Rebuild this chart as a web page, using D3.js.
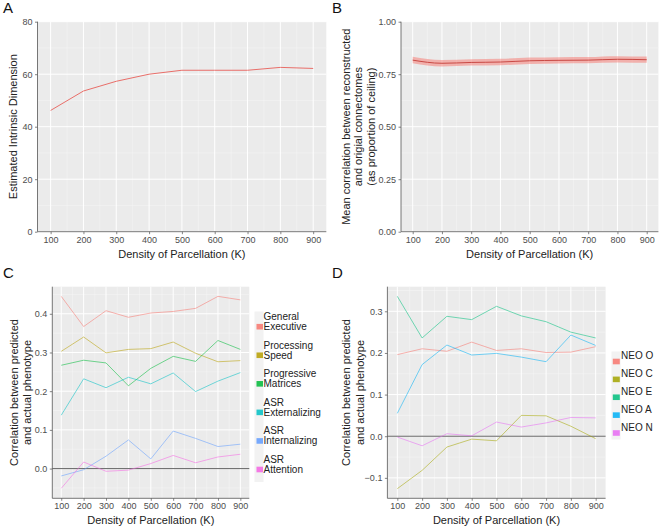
<!DOCTYPE html>
<html>
<head>
<meta charset="utf-8">
<script src="https://cdn.jsdelivr.net/npm/d3@7"></script>
<style>
  html, body { margin: 0; padding: 0; background: #fff; }
  svg { display: block; }
  text { font-family: "Liberation Sans", Arial, Helvetica, sans-serif; }
</style>
</head>
<body>
<svg id="chart" width="659" height="526"></svg>
<script>
// ---------------- DATA ----------------
const densities = [100, 200, 300, 400, 500, 600, 700, 800, 900];
const xTicks = [100, 200, 300, 400, 500, 600, 700, 800, 900];
const xMinorTicks = [150, 250, 350, 450, 550, 650, 750, 850];

// Panel A
const intrinsicDim = [46.2, 53.6, 57.3, 60.0, 61.5, 61.5, 61.5, 62.6, 62.2];
const yTicksA = [0, 20, 40, 60, 80];
const yMinorA = [10, 30, 50, 70];

// Panel B
const reconCorr = [0.817, 0.802, 0.806, 0.808, 0.814, 0.816, 0.817, 0.821, 0.819];
const reconLower = [0.802, 0.787, 0.791, 0.793, 0.799, 0.801, 0.802, 0.806, 0.804];
const reconUpper = [0.833, 0.818, 0.821, 0.823, 0.829, 0.831, 0.832, 0.836, 0.834];
const yTicksB = [0, 0.25, 0.5, 0.75, 1.0];
const yTickLabelsB = ["0.00", "0.25", "0.50", "0.75", "1.00"];
const yMinorB = [0.125, 0.375, 0.625, 0.875];

// Panel C
const namesC = [["General", "Executive"], ["Processing", "Speed"], ["Progressive", "Matrices"],
                ["ASR", "Externalizing"], ["ASR", "Internalizing"], ["ASR", "Attention"]];
const generalExecutive = [0.445, 0.367, 0.408, 0.391, 0.402, 0.406, 0.414, 0.445, 0.436];
const processingSpeed = [0.303, 0.340, 0.299, 0.308, 0.310, 0.327, 0.298, 0.276, 0.279];
const progressiveMatrices = [0.267, 0.280, 0.273, 0.214, 0.259, 0.290, 0.277, 0.331, 0.308];
const asrExternalizing = [0.138, 0.232, 0.209, 0.236, 0.219, 0.247, 0.199, 0.226, 0.248];
const asrInternalizing = [-0.019, -0.003, 0.032, 0.074, 0.025, 0.097, 0.078, 0.057, 0.063];
const asrAttention = [-0.051, 0.017, -0.007, -0.004, 0.013, 0.034, 0.015, 0.030, 0.037];
const colorsC = ["#F8766D", "#B79F00", "#00BA38", "#00BFC4", "#619CFF", "#F564E3"];
const yTicksC = [0.0, 0.1, 0.2, 0.3, 0.4];
const yMinorC = [-0.05, 0.05, 0.15, 0.25, 0.35, 0.45];

// Panel D
const namesD = ["NEO O", "NEO C", "NEO E", "NEO A", "NEO N"];
const neoO = [0.196, 0.210, 0.204, 0.226, 0.206, 0.210, 0.201, 0.202, 0.215];
const neoC = [-0.126, -0.082, -0.026, -0.007, -0.011, 0.050, 0.049, 0.024, -0.006];
const neoE = [0.336, 0.236, 0.288, 0.280, 0.312, 0.289, 0.275, 0.250, 0.236];
const neoA = [0.055, 0.172, 0.219, 0.195, 0.199, 0.190, 0.179, 0.243, 0.218];
const neoN = [-0.002, -0.023, 0.006, 0.001, 0.034, 0.022, 0.032, 0.045, 0.044];
const colorsD = ["#F8766D", "#A3A500", "#00BF7D", "#00B0F6", "#E76BF3"];
const yTicksD = [-0.1, 0.0, 0.1, 0.2, 0.3];
const yMinorD = [-0.05, 0.05, 0.15, 0.25, 0.35];

// ---------------- DRAWING ----------------
const svg = d3.select("#chart");
const PANEL_BG = "#EBEBEB";
const TICK_COLOR = "#4d4d4d";

function makePanel(cfg) {
  const g = svg.append("g");
  const x = d3.scaleLinear().domain(cfg.xDomain).range([cfg.left, cfg.right]);
  const y = d3.scaleLinear().domain(cfg.yDomain).range([cfg.bottom, cfg.top]);

  g.append("rect")
    .attr("x", cfg.left).attr("y", cfg.top)
    .attr("width", cfg.right - cfg.left).attr("height", cfg.bottom - cfg.top)
    .attr("fill", PANEL_BG);

  // minor grid
  g.selectAll(".xminor").data(xMinorTicks).enter().append("line")
    .attr("x1", d => x(d)).attr("x2", d => x(d))
    .attr("y1", cfg.top).attr("y2", cfg.bottom)
    .attr("stroke", "#F7F7F7").attr("stroke-width", 0.5);
  g.selectAll(".yminor").data(cfg.yMinor.filter(v => v >= cfg.yDomain[0] && v <= cfg.yDomain[1])).enter().append("line")
    .attr("x1", cfg.left).attr("x2", cfg.right)
    .attr("y1", d => y(d)).attr("y2", d => y(d))
    .attr("stroke", "#F7F7F7").attr("stroke-width", 0.5);
  // major grid
  g.selectAll(".xmajor").data(xTicks).enter().append("line")
    .attr("x1", d => x(d)).attr("x2", d => x(d))
    .attr("y1", cfg.top).attr("y2", cfg.bottom)
    .attr("stroke", "#FFFFFF").attr("stroke-width", 1);
  g.selectAll(".ymajor").data(cfg.yTicks).enter().append("line")
    .attr("x1", cfg.left).attr("x2", cfg.right)
    .attr("y1", d => y(d)).attr("y2", d => y(d))
    .attr("stroke", "#FFFFFF").attr("stroke-width", 1);

  // axes (d3 axis generators)
  const xAxis = d3.axisBottom(x).tickValues(xTicks).tickSize(2.5).tickPadding(2).tickFormat(d3.format("d"));
  const yAxis = d3.axisLeft(y).tickValues(cfg.yTicks).tickSize(2.5).tickPadding(2.5)
    .tickFormat((d, i) => cfg.yLabels ? cfg.yLabels[i] : cfg.yFormat(d));
  const gx = g.append("g").attr("transform", `translate(0,${cfg.bottom})`).call(xAxis);
  const gy = g.append("g").attr("transform", `translate(${cfg.left},0)`).call(yAxis);
  [gx, gy].forEach(a => {
    a.select(".domain").remove();
    a.selectAll(".tick line").attr("stroke", "#333").attr("stroke-width", 0.6);
    a.selectAll(".tick text").attr("fill", TICK_COLOR).attr("font-size", 9)
      .style("font-family", '"Liberation Sans", Arial, Helvetica, sans-serif');
  });
  // axis lines
  g.append("line").attr("x1", cfg.left).attr("x2", cfg.left).attr("y1", cfg.top).attr("y2", cfg.bottom)
    .attr("stroke", "#555").attr("stroke-width", 0.8);
  g.append("line").attr("x1", cfg.left).attr("x2", cfg.right).attr("y1", cfg.bottom).attr("y2", cfg.bottom)
    .attr("stroke", "#555").attr("stroke-width", 0.8);

  // x title
  g.append("text").attr("x", (cfg.left + cfg.right) / 2).attr("y", cfg.bottom + 26)
    .attr("text-anchor", "middle").attr("font-size", 11).attr("fill", "#222")
    .text("Density of Parcellation (K)");
  // y title (multi-line)
  const cy = (cfg.top + cfg.bottom) / 2;
  cfg.yTitle.forEach((line, i) => {
    g.append("text")
      .attr("transform", `translate(${cfg.yTitleX[i]},${cy}) rotate(-90)`)
      .attr("text-anchor", "middle").attr("dominant-baseline", "central")
      .attr("font-size", 11).attr("fill", "#222").text(line);
  });
  // panel letter
  g.append("text").attr("x", cfg.letterPos[0]).attr("y", cfg.letterPos[1])
    .attr("font-size", 15).attr("fill", "#111").text(cfg.letter);

  return { g, x, y };
}

const lineGen = (x, y, vals) => d3.line().x((d, i) => x(densities[i])).y(d => y(d))(vals);

// Panel A
{
  const p = makePanel({
    left: 37.5, right: 326.3, top: 21.7, bottom: 231.7,
    xDomain: [60, 940], yDomain: [0, 80],
    yTicks: yTicksA, yMinor: yMinorA, yFormat: d3.format("d"),
    yTitle: ["Estimated Intrinsic Dimension"], yTitleX: [12.7],
    letter: "A", letterPos: [3, 13]
  });
  p.g.append("path").attr("d", lineGen(p.x, p.y, intrinsicDim))
    .attr("fill", "none").attr("stroke", "#E8605A").attr("stroke-width", 0.9);
}

// Panel B
{
  const p = makePanel({
    left: 401, right: 658.4, top: 21.7, bottom: 231.7,
    xDomain: [60, 940], yDomain: [0, 1],
    yTicks: yTicksB, yLabels: yTickLabelsB, yMinor: yMinorB,
    yTitle: ["Mean correlation between reconstructed", "and origial connectomes", "(as proportion of ceiling)"],
    yTitleX: [345.5, 358.3, 371],
    letter: "B", letterPos: [332, 13]
  });
  const area = d3.area()
    .x((d, i) => p.x(densities[i]))
    .y0((d, i) => p.y(reconLower[i]))
    .y1((d, i) => p.y(reconUpper[i]))
    .curve(d3.curveMonotoneX);
  p.g.append("path").attr("d", area(reconCorr)).attr("fill", "#F8766D").attr("fill-opacity", 0.5);
  p.g.append("path").attr("d", d3.line().x((d, i) => p.x(densities[i])).y(d => p.y(d)).curve(d3.curveMonotoneX)(reconCorr))
    .attr("fill", "none").attr("stroke", "#C94A45").attr("stroke-width", 1);
}

// Panel C
{
  const p = makePanel({
    left: 52.3, right: 249.3, top: 286.7, bottom: 498.3,
    xDomain: [60, 940], yDomain: [-0.0768, 0.4700],
    yTicks: yTicksC, yMinor: yMinorC, yFormat: d3.format(".1f"),
    yTitle: ["Correlation between predicted", "and actual phenotype"], yTitleX: [13.5, 26.5],
    letter: "C", letterPos: [3, 278]
  });
  p.g.append("line").attr("x1", p.x.range()[0]).attr("x2", p.x.range()[1])
    .attr("y1", p.y(0)).attr("y2", p.y(0)).attr("stroke", "#555").attr("stroke-width", 0.9);
  const seriesC = [generalExecutive, processingSpeed, progressiveMatrices, asrExternalizing, asrInternalizing, asrAttention];
  seriesC.forEach((vals, k) => {
    p.g.append("path").attr("d", lineGen(p.x, p.y, vals))
      .attr("fill", "none").attr("stroke", colorsC[k]).attr("stroke-width", 0.9).attr("stroke-opacity", 0.6);
  });
  // legend
  const lg = svg.append("g");
  const keyY = d3.scaleLinear().domain([0, 5]).range([326.7, 469.5]);
  lg.append("rect").attr("x", 254.5).attr("y", 311.5).attr("width", 9).attr("height", 170.5).attr("fill", "#F2F2F2");
  namesC.forEach((lines, k) => {
    const cyk = keyY(k);
    lg.append("rect").attr("x", 256.5).attr("y", cyk - 2.8).attr("width", 6.5).attr("height", 5.6)
      .attr("fill", colorsC[k]).attr("fill-opacity", 0.85);
    lines.forEach((t, j) => {
      lg.append("text").attr("x", 263.5).attr("y", cyk - 10 + j * 10)
        .attr("dominant-baseline", "central").attr("font-size", 10).attr("fill", "#222").text(t);
    });
  });
}

// Panel D
{
  const p = makePanel({
    left: 387.4, right: 605.6, top: 286.7, bottom: 498.3,
    xDomain: [60, 940], yDomain: [-0.1491, 0.3591],
    yTicks: yTicksD, yMinor: yMinorD, yFormat: d3.format(".1f"),
    yTitle: ["Correlation between predicted", "and actual phenotype"], yTitleX: [346, 359.5],
    letter: "D", letterPos: [332, 278]
  });
  p.g.append("line").attr("x1", p.x.range()[0]).attr("x2", p.x.range()[1])
    .attr("y1", p.y(0)).attr("y2", p.y(0)).attr("stroke", "#555").attr("stroke-width", 0.9);
  const seriesD = [neoO, neoC, neoE, neoA, neoN];
  seriesD.forEach((vals, k) => {
    p.g.append("path").attr("d", lineGen(p.x, p.y, vals))
      .attr("fill", "none").attr("stroke", colorsD[k]).attr("stroke-width", 0.9).attr("stroke-opacity", 0.6);
  });
  const lg = svg.append("g");
  const keyY = d3.scaleLinear().domain([0, 4]).range([361.5, 433]);
  lg.append("rect").attr("x", 611.5).attr("y", 351.5).attr("width", 9).attr("height", 88).attr("fill", "#F2F2F2");
  namesD.forEach((t, k) => {
    const cyk = keyY(k);
    lg.append("rect").attr("x", 612.8).attr("y", cyk - 2.8).attr("width", 7).attr("height", 5.6)
      .attr("fill", colorsD[k]).attr("fill-opacity", 0.85);
    lg.append("text").attr("x", 621).attr("y", cyk - 6)
      .attr("dominant-baseline", "central").attr("font-size", 10).attr("fill", "#222").text(t);
  });
}
</script>
</body>
</html>
